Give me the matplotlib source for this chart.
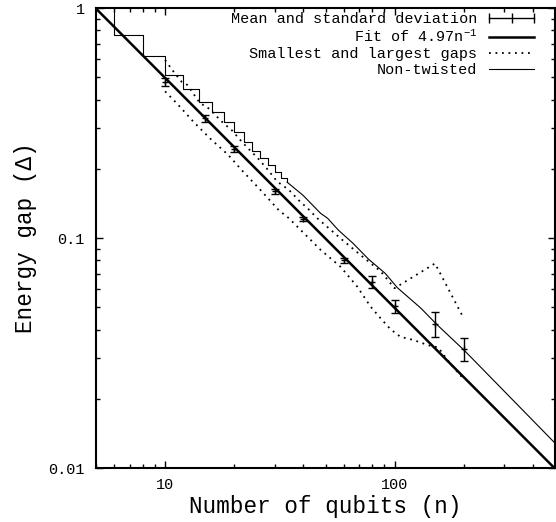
import matplotlib
matplotlib.use('Agg')
import matplotlib.pyplot as plt
from matplotlib.lines import Line2D
from matplotlib.ticker import LogLocator, NullFormatter
import numpy as np

plt.rcParams['font.family'] = ['Liberation Mono', 'DejaVu Sans']
plt.rcParams['mathtext.fontset'] = 'custom'
plt.rcParams['mathtext.rm'] = 'Liberation Mono'
plt.rcParams['mathtext.it'] = 'Liberation Mono'

# mean gap with standard deviation
mean_n = [10, 15, 20, 30, 40, 60, 80, 100, 150, 200]
mean_gap = [0.477, 0.332, 0.244, 0.160, 0.121, 0.080, 0.0644, 0.0506, 0.0423, 0.0329]
mean_std = [0.021, 0.011, 0.007, 0.004, 0.003, 0.002, 0.0040, 0.0033, 0.0052, 0.0038]

# fit a/n
fit_a = 4.97
fit_n = np.array([5, 500])

# smallest and largest gaps
lo_n = [10, 11.25, 13.3, 15.7, 18.9, 21.6, 26, 31.3, 34.6, 47.6, 58.2, 68.8,
        78.6, 87, 96, 106, 121, 140, 155, 170, 190, 200]
lo_gap = [0.434, 0.385, 0.320, 0.271, 0.229, 0.197, 0.162, 0.132, 0.122, 0.0888,
          0.0749, 0.0614, 0.0503, 0.0447, 0.0401, 0.0372, 0.0360, 0.0342, 0.0334,
          0.0295, 0.0258, 0.0244]
up_n = [10, 10.9, 11.8, 12.5, 14.2, 15.2, 16.3, 17.7, 19.6, 21.6, 23.5, 25.2,
        27.8, 30.8, 34.6, 38.2, 42.3, 46, 58.2, 71.1, 87, 100, 150, 200]
up_gap = [0.594, 0.528, 0.478, 0.463, 0.385, 0.372, 0.348, 0.320, 0.293, 0.262,
          0.240, 0.224, 0.200, 0.176, 0.162, 0.146, 0.133, 0.122, 0.0995, 0.0843,
          0.0716, 0.0605, 0.0775, 0.0448]

# non-twisted: staircase for small n, then smooth
nt_step_n = [5, 6, 8, 10, 12, 14, 16, 18, 20, 22, 24, 26, 28, 30, 32, 34]
nt_step_gap = [1.10, 0.765, 0.620, 0.513, 0.444, 0.389, 0.354, 0.320, 0.289,
               0.262, 0.240, 0.222, 0.207, 0.193, 0.183, 0.175]
nt_n = [34, 40, 47.6, 51, 57, 66, 77, 91, 103, 130, 153, 201, 505]
nt_gap = [0.175, 0.153, 0.128, 0.122, 0.108, 0.0947, 0.0809, 0.0702, 0.0607,
          0.0496, 0.0420, 0.0325, 0.0127]

fig = plt.figure(figsize=(5.56, 5.22), dpi=100)
ax = fig.add_axes([96/556, 1-468/522, 459/556, 460/522])

ax.plot(nt_step_n, nt_step_gap, color='black', lw=0.8, drawstyle='steps-post')
ax.plot(nt_n, nt_gap, color='black', lw=0.8)
ax.plot(fit_n, fit_a/fit_n, color='black', lw=1.8)
ax.plot(lo_n, lo_gap, color='black', lw=1.3, ls=(0, (1, 2.6)))
ax.plot(up_n, up_gap, color='black', lw=1.3, ls=(0, (1, 2.6)))
ax.errorbar(mean_n, mean_gap, yerr=mean_std, fmt='+', color='black', ms=5,
            elinewidth=1, capsize=3, capthick=1)

ax.set_xscale('log')
ax.set_yscale('log')
ax.set_xlim(5, 500)
ax.set_ylim(0.01, 1)
ax.set_xticks([10, 100], labels=['10', '100'])
ax.set_yticks([0.01, 0.1, 1], labels=['0.01', '0.1', '1'])
ax.xaxis.set_minor_locator(LogLocator(base=10, subs=np.arange(2, 10)))
ax.yaxis.set_minor_locator(LogLocator(base=10, subs=np.arange(2, 10)))
ax.xaxis.set_minor_formatter(NullFormatter())
ax.yaxis.set_minor_formatter(NullFormatter())
ax.tick_params(which='both', direction='in', top=True, right=True, labelsize=11)
ax.tick_params(which='major', length=5, width=1)
ax.tick_params(which='minor', length=2.7, width=1)
ax.tick_params(axis='x', pad=7)
ax.tick_params(axis='y', pad=8)
for s in ax.spines.values():
    s.set_linewidth(1.5)

ax.set_xlabel('Number of qubits (n)', fontsize=16.3, labelpad=2)
ax.set_ylabel('Energy gap (\u0394)', fontsize=16.3, labelpad=8)

handles = [Line2D([], [], color='black', lw=1, marker='|', ms=7),
           Line2D([], [], color='black', lw=1.8),
           Line2D([], [], color='black', lw=1.3, ls=(0, (1, 2.6))),
           Line2D([], [], color='black', lw=0.8)]
labels = ['Mean and standard deviation', 'Fit of 4.97n$^{-1}$',
          'Smallest and largest gaps', 'Non-twisted']
ax.legend(handles, labels, loc='upper right', frameon=False, markerfirst=False,
          fontsize=10.9, handlelength=3.6, handletextpad=0.5, labelspacing=0.15,
          numpoints=3, borderaxespad=0, borderpad=0,
          bbox_to_anchor=(1 - 16/459, 1 - 4/460))

fig.savefig('out.png', dpi=100)
